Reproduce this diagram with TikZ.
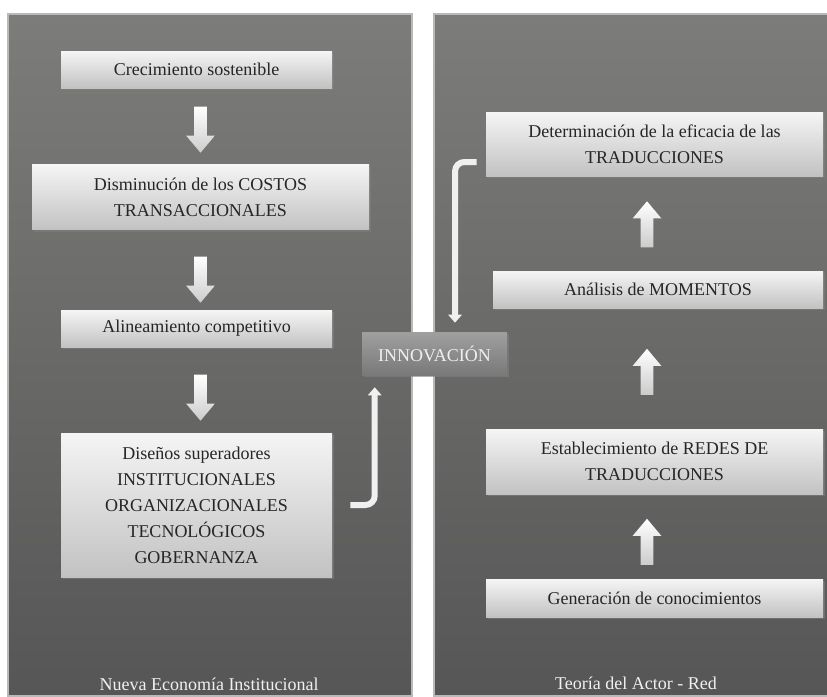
\documentclass[tikz,border=0pt]{standalone}
\usepackage{fontspec}
\setmainfont{Liberation Serif}
\usetikzlibrary{arrows.meta,positioning,shapes.arrows,shadows}

\definecolor{panelTop}{HTML}{7C7C7A}
\definecolor{panelBot}{HTML}{565656}
\definecolor{boxTop}{HTML}{F5F5F5}
\definecolor{boxBot}{HTML}{C2C2C2}
\definecolor{boxText}{HTML}{262626}
\definecolor{labelText}{HTML}{F0F0F0}

\begin{document}
\begin{tikzpicture}[
  x=0.75pt,y=-0.75pt,
  every node/.style={font=\fontsize{13.5}{19.5}\selectfont,align=center},
  panel/.style={top color=panelTop,bottom color=panelBot,draw=gray!55,line width=0.8pt},
  box/.style={top color=boxTop,bottom color=boxBot,text=boxText,inner sep=0pt,
    drop shadow={shadow xshift=1.2pt,shadow yshift=-1.5pt,opacity=0.55}},
  innovbox/.style={top color=gray!75,bottom color=gray!95!black,text=labelText,inner sep=0pt,
    drop shadow={shadow xshift=1.2pt,shadow yshift=-1.5pt,opacity=0.6}},
  downarr/.style={single arrow,shape border rotate=270,minimum height=34.5pt,minimum width=21pt,
    single arrow head extend=6pt,single arrow tip angle=80,inner sep=4.5pt,
    top color=white,bottom color=gray!40,draw=none},
  uparr/.style={downarr,shape border rotate=90},
  bent/.style={-{Triangle[length=6pt,width=10pt]},line width=4.5pt,draw=gray!12,rounded corners=7pt}
]

\useasboundingbox (0,0) rectangle (827,696);

% ============================================================
% LEFT: Nueva Economia Institucional
% ============================================================

\draw[panel] (8,14) rectangle (412,696);

\node[box,minimum width=203.25pt,minimum height=27.75pt] (crec) at (196.5,69.5) {Crecimiento sostenible};
\node[box,minimum width=252.75pt,minimum height=48.75pt] (dism) at (200.5,197) {Disminución de los COSTOS\\TRANSACCIONALES};
\node[box,minimum width=203.25pt,minimum height=27.75pt] (alin) at (196.5,328.5) {Alineamiento competitivo};
\node[box,minimum width=203.25pt,minimum height=108pt] (dise) at (196.5,505) {Diseños superadores\\INSTITUCIONALES\\ORGANIZACIONALES\\TECNOLÓGICOS\\GOBERNANZA};

\node[downarr] (d1) at (200.5,126) {};
\node[downarr] (d2) at (200.5,276) {};
\node[downarr] (d3) at (200.5,394) {};

\node[text=labelText] (nei) at (209,684) {Nueva Economía Institucional};

% ============================================================
% RIGHT: Teoria del Actor - Red
% ============================================================

\draw[panel] (434,14) rectangle (835,696);

\node[box,minimum width=252.75pt,minimum height=48pt] (det) at (654.5,144) {Determinación de la eficacia de las\\TRADUCCIONES};
\node[box,minimum width=247.5pt,minimum height=27.75pt] (anal) at (658,289.5) {Análisis de MOMENTOS};
\node[box,minimum width=252.75pt,minimum height=48.75pt] (esta) at (654.5,461.5) {Establecimiento de REDES DE\\TRADUCCIONES};
\node[box,minimum width=252.75pt,minimum height=28.5pt] (gen) at (654.5,598) {Generación de conocimientos};

\node[uparr] (u1) at (647,228) {};
\node[uparr] (u2) at (647,375.5) {};
\node[uparr] (u3) at (647,545.5) {};

\node[text=labelText] (tar) at (636,683) {Teoría del Actor - Red};

% ============================================================
% CENTRE: Innovacion
% ============================================================

\node[innovbox,minimum width=108.75pt,minimum height=32.25pt] (innov) at (434.5,353.5) {INNOVACIÓN};

\draw[bent] ([xshift=13.5pt]dise.east) -| ([xshift=9.75pt,yshift=-9pt]innov.south west);
\draw[bent] ([xshift=-6.75pt,yshift=-13.5pt]det.west) -| ([xshift=15.4pt,yshift=6.75pt]innov.north);

\end{tikzpicture}
\end{document}
